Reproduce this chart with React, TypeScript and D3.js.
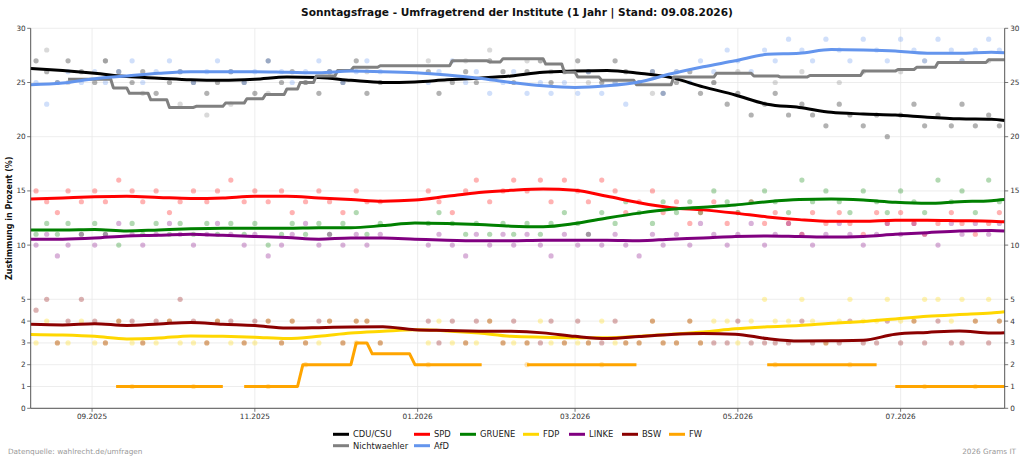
import React from "react";
import * as d3 from "d3";

// Stützstellen der Trendlinien (geglättet)
const trendDates = [
  "2025-08-09", "2025-08-21", "2025-09-02", "2025-09-14", "2025-09-26", "2025-10-08",
  "2025-10-20", "2025-11-01", "2025-11-13", "2025-11-25", "2025-12-07", "2025-12-19",
  "2025-12-31", "2026-01-12", "2026-01-24", "2026-02-05", "2026-02-17", "2026-03-01",
  "2026-03-13", "2026-03-25", "2026-04-06", "2026-04-18", "2026-04-30", "2026-05-12",
  "2026-05-24", "2026-06-05", "2026-06-17", "2026-06-29", "2026-07-11", "2026-07-23",
  "2026-08-04", "2026-08-09",
];
const cduTrend = [26.3, 26.1, 25.85, 25.55, 25.4, 25.25, 25.2, 25.3, 25.5, 25.45, 25.2, 25.0, 25.05, 25.25, 25.4, 25.6, 25.95, 26.05, 26.1, 25.85, 25.45, 24.6, 23.85, 23.0, 22.7, 22.25, 22.1, 22.0, 21.8, 21.65, 21.6, 21.5];
const afdTrend = [24.8, 24.95, 25.35, 25.6, 25.85, 26.0, 26.0, 26.0, 25.95, 25.9, 26.05, 26.0, 25.9, 25.7, 25.4, 25.0, 24.7, 24.55, 24.7, 25.05, 25.8, 26.45, 27.0, 27.6, 27.7, 28.05, 28.0, 27.9, 27.7, 27.7, 27.8, 27.75];
const spdTrend = [14.25, 14.35, 14.45, 14.5, 14.4, 14.3, 14.35, 14.5, 14.5, 14.35, 14.2, 14.05, 14.15, 14.5, 14.85, 15.05, 15.17, 15.05, 14.5, 13.9, 13.45, 13.25, 12.95, 12.6, 12.35, 12.2, 12.2, 12.3, 12.3, 12.25, 12.2, 12.15];
const grueneTrend = [11.4, 11.4, 11.45, 11.3, 11.4, 11.5, 11.55, 11.55, 11.55, 11.6, 11.6, 11.8, 12.05, 12.0, 11.9, 11.75, 11.7, 12.0, 12.5, 12.95, 13.3, 13.5, 13.7, 14.0, 14.2, 14.25, 14.15, 13.95, 13.85, 14.0, 14.1, 14.2];
const linkeTrend = [10.55, 10.55, 10.65, 10.85, 10.9, 11.0, 10.9, 10.8, 10.7, 10.55, 10.65, 10.65, 10.55, 10.45, 10.4, 10.4, 10.45, 10.45, 10.45, 10.4, 10.55, 10.65, 10.8, 10.85, 10.8, 10.75, 10.8, 11.0, 11.15, 11.3, 11.35, 11.3];
const fdpTrend = [3.39, 3.36, 3.3, 3.18, 3.22, 3.32, 3.3, 3.26, 3.2, 3.3, 3.45, 3.53, 3.6, 3.55, 3.45, 3.3, 3.26, 3.24, 3.24, 3.31, 3.4, 3.5, 3.65, 3.74, 3.8, 3.9, 3.98, 4.1, 4.22, 4.3, 4.37, 4.43];
const bswTrend = [3.85, 3.82, 3.88, 3.8, 3.87, 3.94, 3.86, 3.8, 3.68, 3.7, 3.73, 3.74, 3.6, 3.57, 3.54, 3.53, 3.46, 3.3, 3.2, 3.29, 3.39, 3.43, 3.4, 3.2, 3.09, 3.1, 3.12, 3.4, 3.48, 3.55, 3.45, 3.47];

// Stufen-Trends (Beginn einer Stufe, Wert; null = keine Daten)
const nwStarts = [
  "2025-08-23", "2025-09-09", "2025-09-15", "2025-09-23", "2025-09-30", "2025-10-10",
  "2025-10-21", "2025-10-29", "2025-11-05", "2025-11-13", "2025-11-18", "2025-11-24",
  "2025-12-02", "2025-12-08", "2025-12-18", "2026-01-14", "2026-01-28", "2026-02-02",
  "2026-02-18", "2026-02-25", "2026-03-02", "2026-03-11", "2026-03-24", "2026-04-07",
  "2026-04-23", "2026-05-07", "2026-05-17", "2026-05-28", "2026-06-17", "2026-06-30",
  "2026-07-07", "2026-07-15", "2026-08-03",
];
const nwLevels = [25.3, 24.5, 24.0, 23.4, 22.7, 22.8, 23.1, 23.5, 23.9, 24.4, 25.0, 25.6, 26.1, 26.4, 26.55, 27.0, 26.9, 27.2, 26.7, 25.95, 25.5, 25.2, 24.8, 25.5, 25.85, 25.6, 25.5, 25.65, 26.05, 26.2, 26.4, 26.85, 27.1];
const fwStarts = [
  "2025-09-10", "2025-10-20", "2025-10-28", "2025-11-19", "2025-12-09", "2025-12-15",
  "2025-12-31", "2026-01-25", "2026-02-11", "2026-03-24", "2026-05-12", "2026-06-22",
  "2026-06-29",
];
const fwLevels = [1, null, 1, 2, 3, 2.5, 2, null, 2, null, 2, null, 1];
const levelsEnd = "2026-08-09";

// Einzelumfragen
const pollDates = [
  "2025-08-11", "2025-08-15", "2025-08-19", "2025-08-23", "2025-08-28", "2025-09-02", "2025-09-06", "2025-09-11",
  "2025-09-16", "2025-09-20", "2025-09-25", "2025-09-30", "2025-10-04", "2025-10-09", "2025-10-14", "2025-10-18",
  "2025-10-23", "2025-10-28", "2025-11-01", "2025-11-06", "2025-11-11", "2025-11-15", "2025-11-20", "2025-11-25",
  "2025-11-29", "2025-12-04", "2025-12-09", "2025-12-13", "2025-12-18", "2026-01-05", "2026-01-09", "2026-01-14",
  "2026-01-19", "2026-01-23", "2026-01-28", "2026-02-02", "2026-02-06", "2026-02-11", "2026-02-16", "2026-02-20",
  "2026-02-25", "2026-03-02", "2026-03-06", "2026-03-11", "2026-03-16", "2026-03-20", "2026-03-25", "2026-03-30",
  "2026-04-03", "2026-04-08", "2026-04-13", "2026-04-17", "2026-04-22", "2026-04-27", "2026-05-01", "2026-05-06",
  "2026-05-11", "2026-05-15", "2026-05-20", "2026-05-25", "2026-05-29", "2026-06-03", "2026-06-08", "2026-06-12",
  "2026-06-17", "2026-06-22", "2026-06-26", "2026-07-01", "2026-07-06", "2026-07-10", "2026-07-15", "2026-07-20",
  "2026-07-24", "2026-07-29", "2026-08-03", "2026-08-07",
];
const cduPolls = [27, 26, 25, 27, 26, 25, 27, 26, 25, 26, 24, 25, 26, 25, 24, 25, 26, 25, 24, 27, 25, 26, 25, 24, 26, 25, 27, 24, 25, 26, 24, 25, 26, 25, 27, 26, 25, 26, 27, 25, 26, 27, 26, 25, 27, 26, 25, 26, 24, 25, 26, 24, 25, 23, 24, 22, 23, 24, 22, 23, 22, 21, 23, 22, 21, 22, 20, 22, 23, 21, 22, 21, 23, 21, 22, 21];
const nwPolls = [null, 28, null, 25, null, null, 27, null, null, 24, null, null, 23, null, 22, null, 23, null, null, 24, null, null, 25, null, 26, null, null, 26, null, 27, null, null, 27, null, 28, null, null, 27, null, 26, null, null, 25, null, 25, null, null, 24, null, 26, null, null, 25, null, 26, null, null, 25, null, 26, null, null, 25, null, 26, null, null, 26, null, 27, null, null, 27, null, 27, null];
const spdPolls = [15, 14, 13, 15, 14, 15, 14, 16, 15, 14, 15, 13, 14, 15, 14, 15, 16, 14, 15, 14, 15, 13, 14, 15, 14, 13, 15, 14, 14, 15, 14, 13, 15, 16, 14, 15, 16, 15, 16, 14, 16, 15, 14, 16, 15, 13, 14, 15, 13, 14, 12, 13, 14, 12, 13, 14, 12, 13, 12, 11, 13, 12, 13, 12, 11, 13, 12, 13, 12, 11, 12, 13, 12, 11, 12, 13];
const afdPolls = [25, 23, 25, 26, 25, 26, 25, 26, 27, 25, 26, 27, 26, 25, 26, 27, 26, 25, 26, 27, 26, 25, 26, 27, 26, 25, 26, 27, 26, 25, 26, 27, 25, 26, 24, 25, 26, 24, 25, 24, 25, 24, 26, 24, 25, 23, 25, 26, 24, 26, 25, 27, 26, 28, 27, 26, 28, 27, 29, 28, 27, 29, 28, 27, 29, 28, 27, 29, 28, 27, 29, 28, 27, 28, 29, 28];
const gruenePolls = [11, 12, 11, 12, 11, 12, 11, 10, 12, 11, 12, 11, 12, 11, 12, 11, 12, 11, 12, 10, 11, 12, 11, 12, 11, 12, 13, 11, 12, 12, 13, 12, 11, 12, 11, 12, 11, 12, 11, 12, 13, 12, 11, 13, 12, 14, 13, 12, 14, 13, 14, 13, 15, 14, 13, 14, 15, 14, 13, 16, 14, 15, 14, 13, 15, 14, 13, 15, 14, 13, 16, 14, 15, 13, 16, 14];
const fdpPolls = [3, 4, 3, 3, 4, 3, 3, 4, 3, 3, 3, 4, 3, 3, 3, 4, 3, 3, 3, 4, 3, 4, 3, 3, 4, 3, 4, 4, 3, 3, 4, 3, 3, 3, 4, 3, 3, 3, 4, 3, 3, 3, 3, 4, 3, 3, 3, 4, 3, 3, 4, 3, 4, 4, 3, 4, 5, 4, 4, 5, 4, 3, 4, 5, 4, 4, 5, 4, 4, 5, 5, 4, 5, 4, 5, 4];
const linkePolls = [10, 11, 9, 10, 11, 10, 11, 12, 11, 10, 11, 12, 11, 10, 11, 12, 11, 10, 11, 9, 10, 11, 12, 10, 11, 10, 11, 10, 11, 10, 11, 10, 9, 11, 10, 11, 10, 11, 10, 9, 11, 10, 11, 10, 11, 10, 9, 11, 10, 11, 10, 12, 11, 10, 11, 12, 10, 11, 12, 11, 10, 11, 12, 11, 10, 11, 12, 11, 12, 11, 10, 12, 11, 12, 11, 12];
const bswPolls = [4.5, 5, 3, 4, 5, 4, 3, 4, 4, 3, 4, 4, 5, 4, 3, 4, 4, 3, 4, 4, 3, 4, 3, 4, 4, 3, 4, 4, 3, 4, 3, 4, 3, 4, 4, 3, 4, 3, 3, 4, 3, 4, 3, 3, 4, 3, 3, 4, 3, 3, 4, 3, 3, 3, 4, 3, 3, 3, 3, 4, 3, 3, 3, 4, 3, 3, 4, 3, 4, 3, 4, 3, 3, 4, 3, 4];
const fwPolls = [null, null, null, null, null, null, null, null, 1, null, null, null, null, 1, null, null, null, null, null, 1, null, null, 2, null, null, null, 3, null, null, 2, null, null, null, null, null, null, null, 2, null, null, null, null, null, 2, null, null, null, null, null, null, null, null, null, null, null, null, null, 2, null, null, null, null, null, 2, null, null, null, null, null, 1, null, null, null, 1, null, null];

const xTickDates = ["2025-09-01", "2025-11-01", "2026-01-01", "2026-03-01", "2026-05-01", "2026-07-01"];
const yTicks = [0, 1, 2, 3, 4, 5, 10, 15, 20, 25, 30];

const parse = d3.timeParse("%Y-%m-%d");
const DAY = 24 * 3600 * 1000;

type Pt = [Date, number];

// Stufen in Liniensegmente umsetzen (kurze Rampe zwischen den Stufen)
function levelSegments(starts: string[], levels: (number | null)[], end: string, ramp: number): Pt[][] {
  const segs: Pt[][] = [];
  let cur: Pt[] | null = null;
  for (let i = 0; i < starts.length; i++) {
    const v = levels[i];
    if (v === null) {
      cur = null;
      continue;
    }
    if (!cur) {
      cur = [];
      segs.push(cur);
    }
    const s = parse(starts[i])!;
    const n = parse(i + 1 < starts.length ? starts[i + 1] : end)!;
    cur.push([s, v]);
    const next = i + 1 < starts.length ? levels[i + 1] : null;
    if (next !== null) cur.push([new Date(n.getTime() - ramp * DAY), v]);
    else cur.push([n, v]);
  }
  return segs;
}

const parties = [
  { name: "CDU/CSU", color: "#000000", trend: cduTrend, polls: cduPolls },
  { name: "Nichtwaehler", color: "#808080", levels: [nwStarts, nwLevels, 1], polls: nwPolls },
  { name: "SPD", color: "#ff0000", trend: spdTrend, polls: spdPolls },
  { name: "AfD", color: "#6495ed", trend: afdTrend, polls: afdPolls },
  { name: "GRUENE", color: "#008000", trend: grueneTrend, polls: gruenePolls },
  { name: "FDP", color: "#ffd700", trend: fdpTrend, polls: fdpPolls },
  { name: "LINKE", color: "#800080", trend: linkeTrend, polls: linkePolls },
  { name: "BSW", color: "#8b0000", trend: bswTrend, polls: bswPolls },
  { name: "FW", color: "#ffa500", levels: [fwStarts, fwLevels, 2], polls: fwPolls },
] as any[];

// Legendenreihenfolge wie im Original (7 Spalten)
const legendRow1 = ["CDU/CSU", "SPD", "GRUENE", "FDP", "LINKE", "BSW", "FW"];
const legendRow2 = ["Nichtwaehler", "AfD"];
const legendX = [333, 414, 460, 523, 569, 622, 669];

export default function App() {
  const W = 1024;
  const H = 461;
  const left = 30.7;
  const right = 1004.7;
  const top = 28.3;
  const bottom = 408.3;

  const x = d3
    .scaleTime()
    .domain([parse("2025-08-09")!, parse("2026-08-09")!])
    .range([left, right]);
  const y = d3.scaleLinear().domain([0, 5, 30]).range([bottom, 299.3, top]);

  const line = d3
    .line<Pt>()
    .x(d => x(d[0]))
    .y(d => y(d[1]))
    .curve(d3.curveMonotoneX);
  const stepLine = d3
    .line<Pt>()
    .x(d => x(d[0]))
    .y(d => y(d[1]));

  const tDates = trendDates.map(d => parse(d)!);
  const pDates = pollDates.map(d => parse(d)!);
  const colorOf = (n: string) => parties.find(p => p.name === n).color;
  const font = "DejaVu Sans, sans-serif";
  const tickColor = "#333";

  return (
    <svg
      width={W}
      height={H}
      style={{ position: "fixed", left: 0, top: 0, background: "#fff" }}
      fontFamily={font}
    >
      <rect width={W} height={H} fill="#fff" />
      <text x={517} y={16} textAnchor="middle" fontSize={10.6} fontWeight="bold" fill="#111">
        Sonntagsfrage - Umfragetrend der Institute (1 Jahr | Stand: 09.08.2026)
      </text>

      {/* Gitter */}
      <g stroke="#e8e8e8" strokeWidth={0.8}>
        {yTicks.map(t => (
          <line key={"gy" + t} x1={left} x2={right} y1={y(t)} y2={y(t)} />
        ))}
        {xTickDates.map(d => (
          <line key={"gx" + d} x1={x(parse(d)!)} x2={x(parse(d)!)} y1={top} y2={bottom} />
        ))}
      </g>

      {/* Einzelumfragen */}
      {parties.map(p => (
        <g key={"pts" + p.name} fill={p.color} fillOpacity={0.3}>
          {p.polls.map((v: number | null, i: number) =>
            v === null ? null : <circle key={i} cx={x(pDates[i])} cy={y(v)} r={2.6} />
          )}
        </g>
      ))}

      {/* Trendlinien */}
      {parties.map(p =>
        p.trend ? (
          <path
            key={"ln" + p.name}
            d={line(tDates.map((d, i) => [d, p.trend[i]] as Pt)) || ""}
            fill="none"
            stroke={p.color}
            strokeWidth={3}
            strokeLinejoin="round"
          />
        ) : (
          levelSegments(p.levels[0], p.levels[1], levelsEnd, p.levels[2]).map((seg, j) => (
            <path
              key={"ln" + p.name + j}
              d={stepLine(seg) || ""}
              fill="none"
              stroke={p.color}
              strokeWidth={3}
              strokeLinejoin="round"
            />
          ))
        )
      )}

      {/* Achsen */}
      <g stroke="#555" strokeWidth={1} fill="none">
        <line x1={left} x2={left} y1={top} y2={bottom} />
        <line x1={right} x2={right} y1={top} y2={bottom} />
        <line x1={left} x2={right} y1={bottom} y2={bottom} />
      </g>
      {yTicks.map(t => (
        <g key={"yt" + t} fontSize={7.3} fill={tickColor}>
          <line x1={left - 3.5} x2={left} y1={y(t)} y2={y(t)} stroke="#555" strokeWidth={0.8} />
          <line x1={right} x2={right + 3.5} y1={y(t)} y2={y(t)} stroke="#555" strokeWidth={0.8} />
          <text x={left - 5} y={y(t)} dy="0.35em" textAnchor="end">
            {t}
          </text>
          <text x={right + 5.5} y={y(t)} dy="0.35em" textAnchor="start">
            {t}
          </text>
        </g>
      ))}
      {xTickDates.map(d => {
        const dt = parse(d)!;
        return (
          <g key={"xt" + d} fontSize={7.3} fill={tickColor}>
            <line x1={x(dt)} x2={x(dt)} y1={bottom} y2={bottom + 3.5} stroke="#555" strokeWidth={0.8} />
            <text x={x(dt)} y={418.5} textAnchor="middle">
              {d3.timeFormat("%m.%Y")(dt)}
            </text>
          </g>
        );
      })}
      <text
        transform={`translate(11.5, ${(top + bottom) / 2}) rotate(-90)`}
        textAnchor="middle"
        fontSize={8}
        fontWeight="bold"
        fill="#111"
      >
        Zustimmung in Prozent (%)
      </text>

      {/* Legende */}
      {[legendRow1, legendRow2].map((row, r) =>
        row.map((name, c) => (
          <g key={"lg" + name} transform={`translate(${legendX[c]}, ${r === 0 ? 434.3 : 445.7})`}>
            <line x1={0} x2={16} y1={0} y2={0} stroke={colorOf(name)} strokeWidth={3} />
            <text x={20} y={0} dy="0.35em" fontSize={8.4} fill="#222">
              {name}
            </text>
          </g>
        ))
      )}

      <text x={8} y={454} fontSize={7.3} fill="#999">
        Datenquelle: wahlrecht.de/umfragen
      </text>
      <text x={1016} y={454} fontSize={7.3} fill="#999" textAnchor="end">
        2026 Grams IT
      </text>
    </svg>
  );
}
